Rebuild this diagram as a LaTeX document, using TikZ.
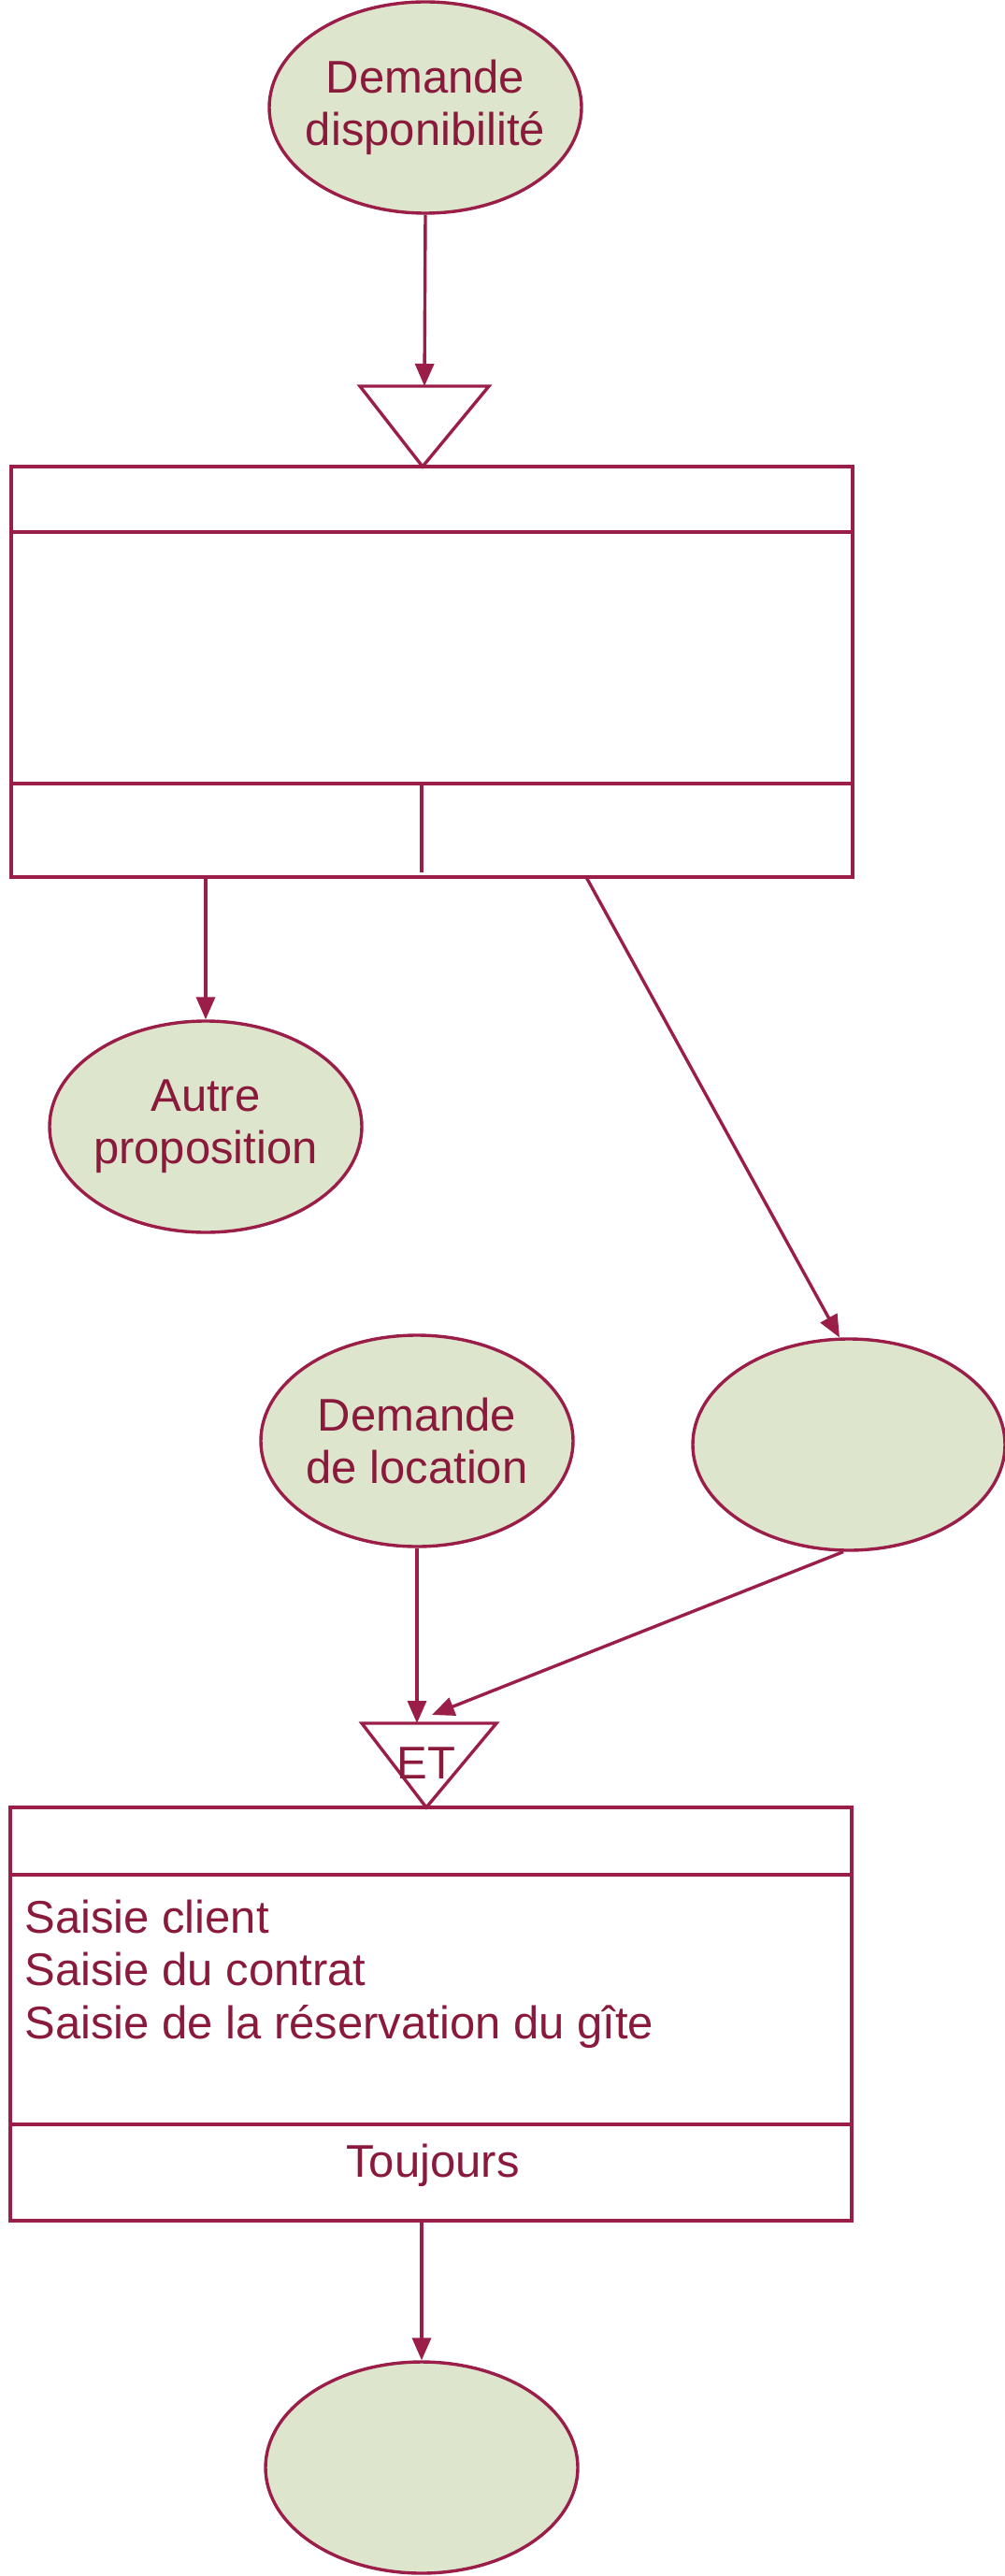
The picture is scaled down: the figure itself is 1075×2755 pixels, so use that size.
\documentclass[tikz,border=0pt]{standalone}
\usepackage{fontspec}
\setmainfont{Liberation Sans}
\usetikzlibrary{arrows.meta,shapes.geometric}
\definecolor{crim}{RGB}{155,30,72}
\definecolor{crimtext}{RGB}{138,26,60}
\definecolor{sage}{RGB}{221,229,204}
\begin{document}
\begin{tikzpicture}[x=0.5pt,y=-0.5pt,
  ln/.style={draw=crim,line width=1.7pt},
  arr/.style={ln,-{Triangle[length=12pt,width=10pt]}},
  evt/.style={ellipse,draw=crim,line width=1.7pt,fill=sage,minimum width=167pt,minimum height=113pt,inner sep=0pt},
  box/.style={rectangle,draw=crim,line width=1.7pt,inner sep=0pt},
  txt/.style={text=crimtext,font=\fontsize{24.5}{28}\selectfont,inner sep=0pt,align=center}]
\useasboundingbox (0,0) rectangle (1075,2755);

% events
\node[evt] (e1) at (455,115) {};
\node[txt] (e1t) at (e1) {Demande\\disponibilité};
\node[evt] (e2) at (220,1205) {};
\node[txt] (e2t) at (e2) {Autre\\proposition};
\node[evt] (e3) at (446,1541) {};
\node[txt] (e3t) at (e3) {Demande\\de location};
\node[evt] (e4) at (908,1545) {};
\node[evt] (e5) at (451,2639) {};

% synchronisation 1
\coordinate (t1) at (454,413);
\draw[ln,line join=miter] (385,413) -- (523,413) -- (452,499) -- cycle;

% operation box 1
\node[box,minimum width=450pt,minimum height=219.5pt] (b1) at (462,718.5) {};
\draw[ln] (12,569) -- (912,569);
\draw[ln] (12,838) -- (912,838);
\draw[ln] (451,838) -- (451,933);
\coordinate (b1r) at (627,938);

% synchronisation 2
\draw[ln,line join=miter] (387,1843) -- (531,1843) -- (456,1933) -- cycle;
\node[txt] (et) at (456,1886) {ET};
\coordinate (t2l) at (446,1843);
\coordinate (t2r) at (462,1834);

% operation box 2
\node[box,minimum width=450pt,minimum height=221pt] (b2) at (461,2154) {};
\draw[ln] (11,2005) -- (911,2005);
\draw[ln] (11,2272) -- (911,2272);
\node[txt,anchor=base west] (s1) at (26,2067) {Saisie client};
\node[txt,anchor=base west] (s2) at (26,2123) {Saisie du contrat};
\node[txt,anchor=base west] (s3) at (26,2180) {Saisie de la réservation du gîte};
\node[txt,anchor=base] (tj) at (463,2328) {Toujours};

% connectors
\draw[arr] (e1.south) -- (t1);
\draw[arr] (b1.south -| e2) -- (e2.north);
\draw[arr] (b1r) -- (e4.95);
\draw[arr] (e3.south) -- (t2l);
\draw[arr] (e4.267) -- (t2r);
\draw[arr] (b2.south -| e5) -- (e5.north);
\end{tikzpicture}
\end{document}
